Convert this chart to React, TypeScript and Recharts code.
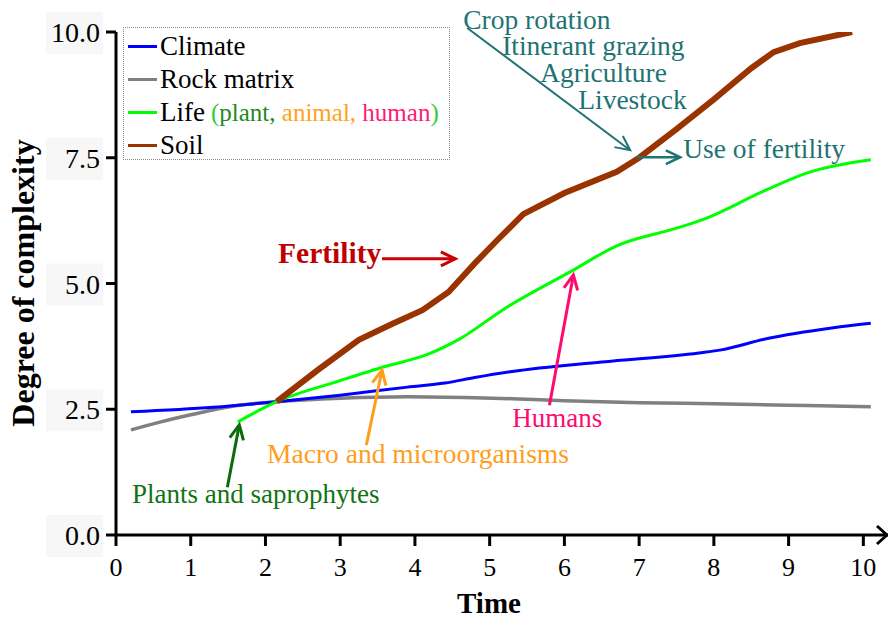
import React from 'react';
import { LineChart, Line, XAxis, YAxis, ReferenceLine, ReferenceDot, Legend } from 'recharts';

const FONT = '"Liberation Serif", "Times New Roman", serif';

// series values (t = time, v = degree of complexity)
const climate = [
  { t: 0.2, v: 2.45 }, { t: 1.3, v: 2.54 }, { t: 2.15, v: 2.65 }, { t: 3.0, v: 2.78 },
  { t: 3.9, v: 2.94 }, { t: 4.4, v: 3.02 }, { t: 4.8, v: 3.13 }, { t: 5.3, v: 3.25 },
  { t: 6.5, v: 3.44 }, { t: 7.8, v: 3.62 }, { t: 8.1, v: 3.68 }, { t: 8.7, v: 3.9 },
  { t: 9.6, v: 4.12 }, { t: 10.1, v: 4.21 },
];

const rockMatrix = [
  { t: 0.2, v: 2.09 }, { t: 0.6, v: 2.25 }, { t: 1.0, v: 2.39 }, { t: 1.6, v: 2.57 },
  { t: 2.15, v: 2.65 }, { t: 3.0, v: 2.72 }, { t: 3.9, v: 2.75 }, { t: 4.8, v: 2.73 },
  { t: 5.3, v: 2.71 }, { t: 6.0, v: 2.67 }, { t: 7.0, v: 2.63 }, { t: 8.0, v: 2.61 },
  { t: 9.0, v: 2.58 }, { t: 10.1, v: 2.55 },
];

const life = [
  { t: 1.63, v: 2.25 }, { t: 2.15, v: 2.65 }, { t: 3.0, v: 3.07 }, { t: 3.6, v: 3.35 },
  { t: 4.15, v: 3.58 }, { t: 4.6, v: 3.9 }, { t: 5.2, v: 4.5 }, { t: 6.1, v: 5.25 },
  { t: 6.7, v: 5.75 }, { t: 7.5, v: 6.1 }, { t: 7.85, v: 6.27 }, { t: 8.7, v: 6.86 },
  { t: 9.25, v: 7.2 }, { t: 10.1, v: 7.46 },
];

const soil = [
  { t: 2.15, v: 2.65 }, { t: 2.7, v: 3.28 }, { t: 3.25, v: 3.88 }, { t: 3.7, v: 4.2 },
  { t: 4.1, v: 4.47 }, { t: 4.45, v: 4.83 }, { t: 4.8, v: 5.4 }, { t: 5.1, v: 5.86 },
  { t: 5.45, v: 6.38 }, { t: 6.0, v: 6.8 }, { t: 6.7, v: 7.22 }, { t: 7.0, v: 7.5 },
  { t: 7.5, v: 8.07 }, { t: 8.0, v: 8.66 }, { t: 8.5, v: 9.28 }, { t: 8.8, v: 9.6 },
  { t: 9.15, v: 9.78 }, { t: 9.85, v: 10.0 },
];

const xTicks = [0, 1, 2, 3, 4, 5, 6, 7, 8, 9, 10];
const yTicks = [0, 2.5, 5, 7.5, 10];
const X_MAX = 10.33;

const TEAL = '#1e7373';

// annotation texts, anchored at their left baseline in data coordinates
const notes = [
  { text: 'Crop rotation', t: 4.645, v: 10.06, color: TEAL, size: 27.5, bold: false },
  { text: 'Itinerant grazing', t: 5.167, v: 9.54, color: TEAL, size: 27.5, bold: false },
  { text: 'Agriculture', t: 5.676, v: 9.01, color: TEAL, size: 27.5, bold: false },
  { text: 'Livestock', t: 6.185, v: 8.47, color: TEAL, size: 27.5, bold: false },
  { text: 'Use of fertility', t: 7.59, v: 7.5, color: TEAL, size: 27.5, bold: false },
  { text: 'Fertility', t: 2.169, v: 5.41, color: '#c00000', size: 29.5, bold: true },
  { text: 'Humans', t: 5.301, v: 2.15, color: '#ff0a6e', size: 27, bold: false },
  { text: 'Macro and microorganisms', t: 2.021, v: 1.43, color: '#ff9d1c', size: 27.5, bold: false },
  { text: 'Plants and saprophytes', t: 0.214, v: 0.64, color: '#127312', size: 27, bold: false },
];

const arrows = [
  { from: [4.7, 10.08], to: [6.88, 7.65], color: TEAL, w: 2 },
  { from: [6.97, 7.51], to: [7.55, 7.51], color: TEAL, w: 2.5 },
  { from: [3.56, 5.49], to: [4.54, 5.49], color: '#cc0000', w: 3 },
  { from: [5.8, 2.58], to: [6.12, 5.17], color: '#ff0a6e', w: 3 },
  { from: [3.35, 1.79], to: [3.56, 3.28], color: '#ff9d1c', w: 3 },
  { from: [1.49, 0.95], to: [1.65, 2.19], color: '#0b6b0b', w: 3 },
];

function arrowShape(color: string, w: number) {
  return (p: any) => {
    const { x1, y1, x2, y2 } = p;
    const a = Math.atan2(y2 - y1, x2 - x1);
    const len = 16;
    const s = 0.45;
    const hx1 = x2 - len * Math.cos(a - s);
    const hy1 = y2 - len * Math.sin(a - s);
    const hx2 = x2 - len * Math.cos(a + s);
    const hy2 = y2 - len * Math.sin(a + s);
    return (
      <g>
        <line x1={x1} y1={y1} x2={x2} y2={y2} stroke={color} strokeWidth={w} />
        <polyline
          points={`${hx1},${hy1} ${x2},${y2} ${hx2},${hy2}`}
          fill="none"
          stroke={color}
          strokeWidth={w}
        />
      </g>
    );
  };
}

const YTick = (props: any) => {
  const { x, y, payload } = props;
  return (
    <g>
      <rect x={x - 54} y={y - 20} width={57} height={42} fill="#f7f7f7" />
      <text x={x} y={y} dy={10} textAnchor="end" fontFamily={FONT} fontSize={28} fill="#000">
        {Number(payload.value).toFixed(1)}
      </text>
    </g>
  );
};

const XTick = (props: any) => {
  const { x, y, payload } = props;
  return (
    <text x={x} y={y} dy={28} textAnchor="middle" fontFamily={FONT} fontSize={26} fill="#000">
      {payload.value}
    </text>
  );
};

const legendRows = [
  { name: 'Climate', color: '#0000ff' },
  { name: 'Rock matrix', color: '#808080' },
  { name: 'Life', color: '#00ff00' },
  { name: 'Soil', color: '#993300' },
];

function LegendBox() {
  return (
    <div
      style={{
        width: 327,
        height: 133,
        boxSizing: 'border-box',
        border: '1px dotted #8c8c8c',
        background: '#fff',
        paddingTop: 2,
        fontFamily: FONT,
        fontSize: 27,
        color: '#000',
      }}
    >
      {legendRows.map((r) => (
        <div key={r.name} style={{ display: 'flex', alignItems: 'center', height: 33, whiteSpace: 'nowrap' }}>
          <span style={{ display: 'inline-block', width: 29, height: 3, background: r.color, marginLeft: 4, marginRight: 3 }} />
          <span>{r.name}</span>
          {r.name === 'Life' && (
            <span style={{ fontSize: 25, marginLeft: 6 }}>
              <span style={{ color: '#33cc33' }}>(</span>
              <span style={{ color: '#1f8a1f' }}>plant, </span>
              <span style={{ color: '#ffa31a' }}>animal, </span>
              <span style={{ color: '#ff1a75' }}>human</span>
              <span style={{ color: '#33cc33' }}>)</span>
            </span>
          )}
        </div>
      ))}
    </div>
  );
}

export default function App() {
  return (
    <div style={{ width: 888, height: 619, background: '#fff' }}>
      <style>{'body { margin: 0; }'}</style>
      <LineChart width={888} height={619} margin={{ top: 32, right: 0, bottom: 0, left: 0 }}>
        <XAxis
          type="number"
          dataKey="t"
          domain={[0, X_MAX]}
          allowDataOverflow
          ticks={xTicks}
          tick={<XTick />}
          tickSize={11}
          tickMargin={2}
          height={84}
          axisLine={{ stroke: '#000', strokeWidth: 3 }}
          tickLine={{ stroke: '#000', strokeWidth: 3 }}
          label={{
            content: () => (
              <text x={489} y={613} textAnchor="middle" fontFamily={FONT} fontSize={29} fontWeight="bold" fill="#000">
                Time
              </text>
            ),
          }}
        />
        <YAxis
          type="number"
          domain={[0, 10]}
          allowDataOverflow
          ticks={yTicks}
          tick={<YTick />}
          tickSize={10}
          tickMargin={6}
          width={116}
          axisLine={{ stroke: '#000', strokeWidth: 3 }}
          tickLine={{ stroke: '#000', strokeWidth: 3 }}
          label={{
            content: () => (
              <text
                x={34}
                y={283}
                transform="rotate(-90, 34, 283)"
                textAnchor="middle"
                fontFamily={FONT}
                fontSize={32}
                fontWeight="bold"
                fill="#000"
              >
                Degree of complexity
              </text>
            ),
          }}
        />
        <Legend
          layout="vertical"
          align="center"
          verticalAlign="middle"
          wrapperStyle={{ left: 123, top: 27, width: 327 }}
          content={<LegendBox />}
        />
        <Line data={rockMatrix} dataKey="v" type="monotone" stroke="#808080" strokeWidth={3.5} dot={false} isAnimationActive={false} />
        <Line data={climate} dataKey="v" type="monotone" stroke="#0000ff" strokeWidth={3} dot={false} isAnimationActive={false} />
        <Line data={life} dataKey="v" type="monotone" stroke="#00ff00" strokeWidth={3} dot={false} isAnimationActive={false} />
        <Line data={soil} dataKey="v" type="linear" stroke="#993300" strokeWidth={6} dot={false} isAnimationActive={false} />
        {arrows.map((a, i) => (
          <ReferenceLine
            key={'a' + i}
            segment={[{ x: a.from[0], y: a.from[1] }, { x: a.to[0], y: a.to[1] }]}
            ifOverflow="visible"
            stroke={a.color}
            shape={arrowShape(a.color, a.w)}
          />
        ))}
        {notes.map((n, i) => (
          <ReferenceDot
            key={'n' + i}
            x={n.t}
            y={n.v}
            r={0}
            ifOverflow="visible"
            shape={(p: any) => (
              <text
                x={p.cx}
                y={p.cy}
                fontFamily={FONT}
                fontSize={n.size}
                fontWeight={n.bold ? 'bold' : 'normal'}
                fill={n.color}
              >
                {n.text}
              </text>
            )}
          />
        ))}
        <ReferenceDot
          x={X_MAX}
          y={0}
          r={0}
          ifOverflow="visible"
          shape={(p: any) => (
            <polyline
              points={`${p.cx - 11},${p.cy - 9} ${p.cx - 1},${p.cy} ${p.cx - 11},${p.cy + 9}`}
              fill="none"
              stroke="#000"
              strokeWidth={3}
            />
          )}
        />
      </LineChart>
    </div>
  );
}
